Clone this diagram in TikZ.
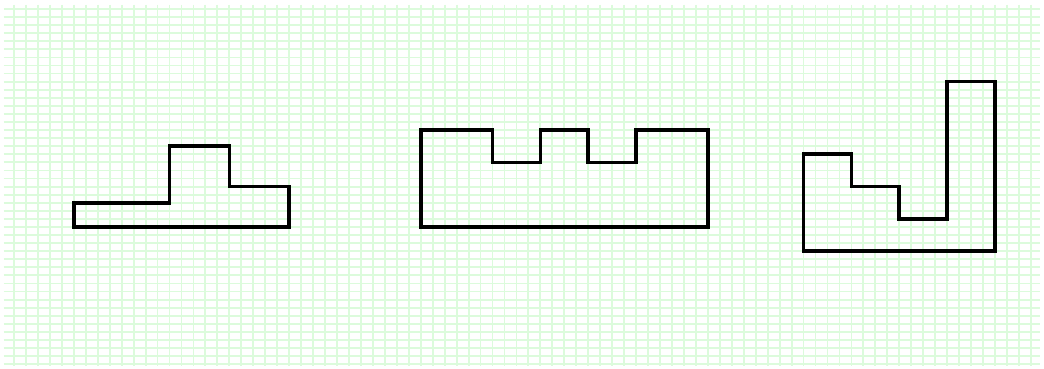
\documentclass[tikz,border=0pt]{standalone}
\usepackage{tikz}
\definecolor{gridgreen}{RGB}{220,251,220}

\begin{document}
\begin{tikzpicture}[
    x=0.025cm, y=-0.025cm,
    gridline/.style={draw=gridgreen, line width=1.3pt},
    outline/.style={draw=black, line width=2.6pt, line join=miter}
]

% Canvas
\useasboundingbox (0,0) rectangle (1044,368);
\fill[white] (0,0) rectangle (1044,368);

\begin{scope}[shift={(14,9)}, x=0.299cm, y=-0.20175cm]

% Grid
\foreach \i in {0,...,85} {
    \draw[gridline] (\i,-0.5) -- (\i,44.2);
}
\foreach \j in {0,...,44} {
    \draw[gridline] (-0.84,\j) -- (85.8,\j);
}

% Left shape
\draw[outline] (5,27) -- (5,24) -- (13,24) -- (13,17) -- (18,17) -- (18,22)
    -- (23,22) -- (23,27) -- cycle;

% Middle shape
\draw[outline] (34,27) -- (34,15) -- (40,15) -- (40,19) -- (44,19) -- (44,15)
    -- (48,15) -- (48,19) -- (52,19) -- (52,15) -- (58,15) -- (58,27) -- cycle;

% Right shape
\draw[outline] (66,30) -- (66,18) -- (70,18) -- (70,22) -- (74,22) -- (74,26)
    -- (78,26) -- (78,9) -- (82,9) -- (82,30) -- cycle;

\end{scope}

\end{tikzpicture}
\end{document}
